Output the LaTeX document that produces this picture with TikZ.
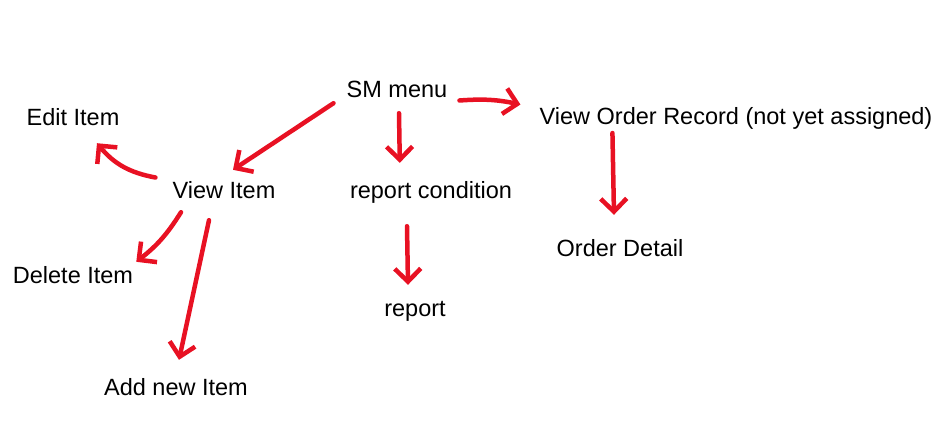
\documentclass[tikz,border=0pt]{standalone}
\usepackage{fontspec}
\setmainfont{Liberation Sans}
\usetikzlibrary{arrows.meta}
\definecolor{inkred}{RGB}{232,17,35}
\tikzset{
  label/.style={anchor=base, inner sep=0pt, text height=17pt, text depth=0pt,
    font=\fontsize{23.5}{28}\selectfont},
  ink/.style={draw=inkred, line width=4.5pt, line cap=round, line join=round,
    -{Straight Barb[length=13pt, width=26pt]}}
}
\begin{document}
\begin{tikzpicture}[x=1pt, y=-1pt]
    \useasboundingbox (0,0) rectangle (935,447);
    % menu entries
    \node[label] (sm)   at (397,97)  {SM menu};
    \node[label] (edit) at (73,125)  {Edit Item};
    \node[label] (vi)   at (224,198) {View Item};
    \node[label] (rc)   at (431,198) {report condition};
    \node[label] (vor)  at (736,124) {View Order Record (not yet assigned)};
    \node[label] (od)   at (620,256) {Order Detail};
    \node[label] (del)  at (73,283)  {Delete Item};
    \node[label] (rep)  at (415,316) {report};
    \node[label] (add)  at (176,395) {Add new Item};

    % arrows
    \draw[ink] ([xshift=-13pt, yshift=-6pt]sm.south west) -- ([xshift=9pt, yshift=11pt]vi.north);
    \draw[ink] ([xshift=-17pt, yshift=12pt]vi.west) to[bend left=20] ([xshift=24pt, yshift=-18pt]edit.south);
    \draw[ink] ([xshift=-43pt, yshift=-14pt]vi.south) to[bend left=10] ([xshift=3pt, yshift=4pt]del.north east);
    \draw[ink] ([xshift=-15pt, yshift=-22pt]vi.south) -- ([xshift=3pt, yshift=18pt]add.north);
    \draw[ink] ([xshift=2pt, yshift=-16pt]sm.south) -- ([xshift=50pt, yshift=18pt]rc.north west);
    \draw[ink] ([xshift=12pt, yshift=-12pt]sm.east) to[bend left=8] ([xshift=-19pt, yshift=11pt]vor.west);
    \draw[ink] ([xshift=73pt, yshift=-9pt]vor.base west) -- ([xshift=-6pt, yshift=24pt]od.north);
    \draw[ink] ([xshift=-24pt, yshift=-28pt]rc.south) -- ([xshift=-7pt, yshift=14pt]rep.north);
\end{tikzpicture}
\end{document}
